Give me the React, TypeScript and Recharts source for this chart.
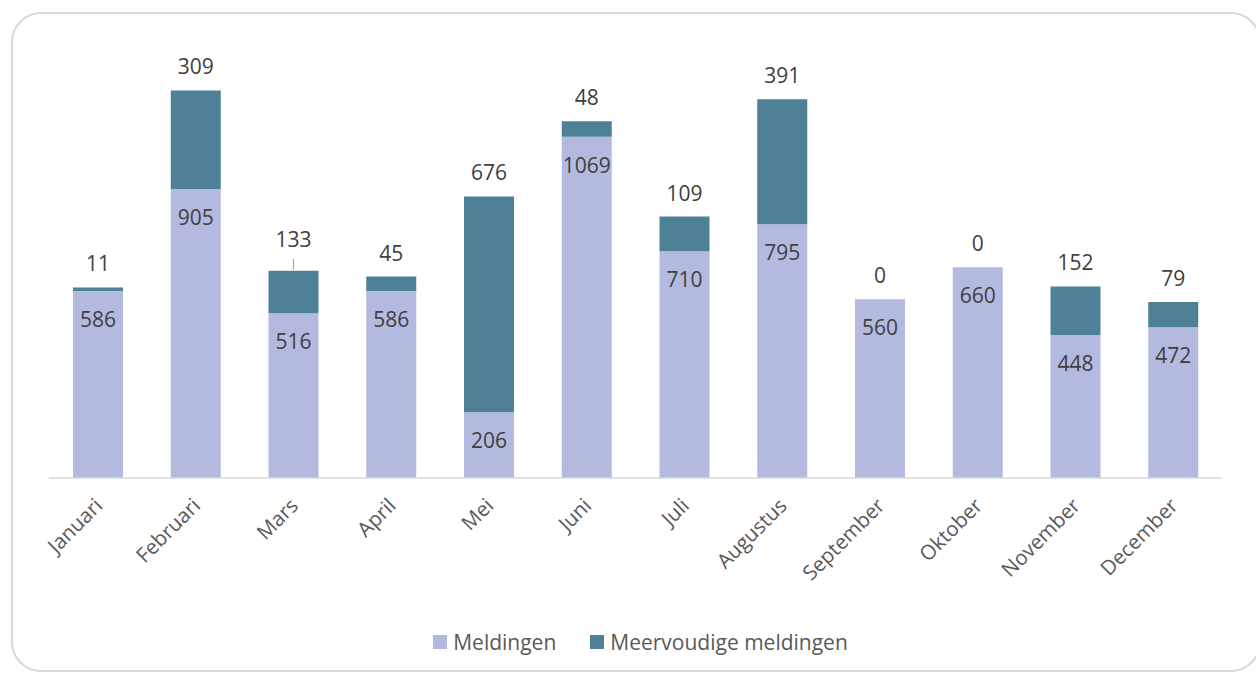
import { BarChart, Bar, XAxis, YAxis, Legend, LabelList } from 'recharts'

const MONTHS = ['Januari', 'Februari', 'Mars', 'April', 'Mei', 'Juni', 'Juli', 'Augustus', 'September', 'Oktober', 'November', 'December']
const MELDINGEN = [586, 905, 516, 586, 206, 1069, 710, 795, 560, 660, 448, 472]
const MEERVOUDIG = [11, 309, 133, 45, 676, 48, 109, 391, 0, 0, 152, 79]

const data = MONTHS.map((month, i) => ({ month, meldingen: MELDINGEN[i], meervoudig: MEERVOUDIG[i] }))

const FONT = '"Open Sans", "DejaVu Sans", sans-serif'
const LIGHT = '#b4badf'
const DARK = '#4e8096'

// Mars label sits higher in the original, with a leader line
const LEADER = 'Mars'

function MonthTick({ x, y, payload }: { x?: number; y?: number; payload?: { value: string } }) {
  return (
    <g transform={`translate(${(x ?? 0) + 6},${(y ?? 0) + 29})`}>
      <text textAnchor="end" transform="rotate(-45)" fontSize={20.5} fill="#595959" fontFamily={FONT}>
        {payload?.value}
      </text>
    </g>
  )
}

function topText(cx: number, y: number, value: number, lead: boolean) {
  return (
    <g>
      {lead && <line x1={cx} x2={cx} y1={y - 1} y2={y - 12} stroke="#a6a6a6" strokeWidth={1.2} />}
      <text x={cx} y={y - (lead ? 24 : 16)} textAnchor="middle" fontSize={21} fill="#404040" fontFamily={FONT}>
        {value}
      </text>
    </g>
  )
}

function TopLabel(props: any) {
  const { x, y, width, value, index } = props
  return topText(x + width / 2, y, value, MONTHS[index] === LEADER)
}

function InsideLabel(props: any) {
  const { x, y, width, value, index } = props
  const cx = x + width / 2
  return (
    <g>
      <text x={cx} y={y + 36} textAnchor="middle" fontSize={21} fill="#404040" fontFamily={FONT}>
        {value}
      </text>
      {/* zero-height stacked bars get no label of their own */}
      {MEERVOUDIG[index] === 0 && topText(cx, y, 0, false)}
    </g>
  )
}

function LegendBox() {
  const items = [
    { name: 'Meldingen', color: LIGHT },
    { name: 'Meervoudige meldingen', color: DARK },
  ]
  return (
    <div style={{ display: 'flex', justifyContent: 'center', alignItems: 'center', height: 50, paddingLeft: 10, fontFamily: FONT, fontSize: 21, color: '#595959' }}>
      {items.map((it) => (
        <div key={it.name} style={{ display: 'flex', alignItems: 'center', margin: '0 17px' }}>
          <span style={{ width: 14, height: 14, background: it.color, marginRight: 6, display: 'inline-block' }} />
          {it.name}
        </div>
      ))}
    </div>
  )
}

export default function App() {
  return (
    <div style={{ position: 'absolute', left: 0, top: 0, width: 1256, height: 675, background: '#fff', overflow: 'hidden' }}>
      <div
        style={{
          position: 'absolute',
          left: 11,
          top: 12,
          width: 1250,
          height: 660,
          border: '2px solid #d9d9d9',
          borderRadius: 30,
          boxSizing: 'border-box',
        }}
      />
      <BarChart
        width={1256}
        height={675}
        data={data}
        margin={{ top: 31, right: 34, left: 49, bottom: 8 }}
        barSize={50}
      >
        <XAxis
          dataKey="month"
          axisLine={{ stroke: '#d9d9d9', strokeWidth: 1.5 }}
          tickLine={false}
          tickSize={0}
          tickMargin={0}
          height={139}
          interval={0}
          tick={<MonthTick />}
        />
        <YAxis hide domain={[0, 1400]} />
        <Legend verticalAlign="bottom" height={50} content={<LegendBox />} />
        <Bar dataKey="meldingen" name="Meldingen" stackId="a" fill={LIGHT} isAnimationActive={false}>
          <LabelList dataKey="meldingen" content={<InsideLabel />} />
        </Bar>
        <Bar dataKey="meervoudig" name="Meervoudige meldingen" stackId="a" fill={DARK} isAnimationActive={false}>
          <LabelList dataKey="meervoudig" content={<TopLabel />} />
        </Bar>
      </BarChart>
    </div>
  )
}
